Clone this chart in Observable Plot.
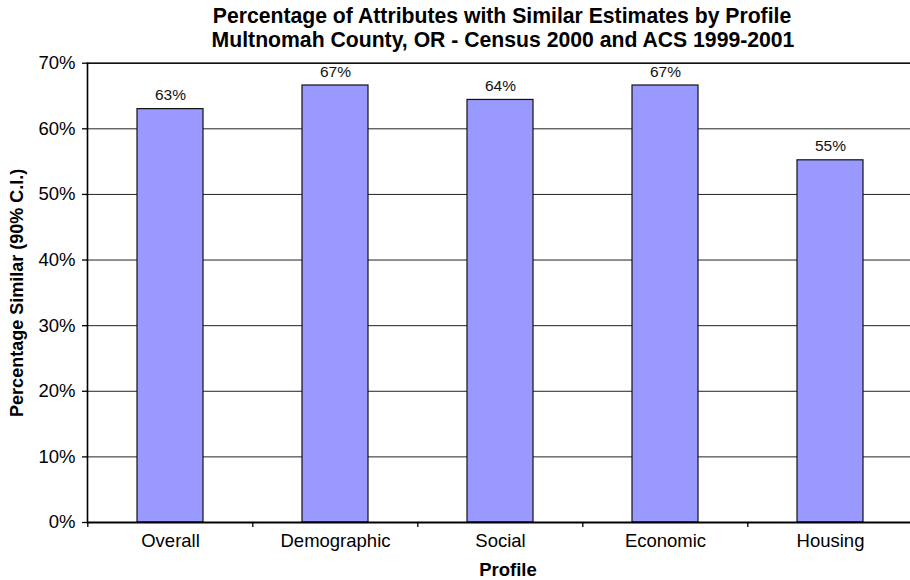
<!DOCTYPE html>
<html>
<head>
<meta charset="utf-8">
<script src="https://cdn.jsdelivr.net/npm/d3@7"></script>
<script src="https://cdn.jsdelivr.net/npm/@observablehq/plot@0.6"></script>
<style>
  html, body { margin: 0; padding: 0; background: #fff; }
  #wrap { width: 910px; height: 580px; overflow: hidden; position: relative; }
  #wrap svg { font-family: "Liberation Sans", Arial, Helvetica, sans-serif; }
</style>
</head>
<body>
<div id="wrap"></div>
<script>
const categories = ["Overall", "Demographic", "Social", "Economic", "Housing"];
const values = [63.0, 66.6, 64.4, 66.6, 55.2];
const yTicks = [0, 10, 20, 30, 40, 50, 60, 70];
const titleLines = [
  "Percentage of Attributes with Similar Estimates by Profile",
  "Multnomah County, OR - Census 2000 and ACS 1999-2001"
];
const yLabel = "Percentage Similar (90% C.I.)";
const xLabel = "Profile";

const data = categories.map((c, i) => ({category: c, value: values[i]}));

const width = 914, height = 580;
const marginLeft = 87, marginRight = 0, marginTop = 62.7, marginBottom = 58;
const step = (width - marginLeft - marginRight) / categories.length;

const chart = Plot.plot({
  width, height, marginLeft, marginRight, marginTop, marginBottom,
  style: {maxWidth: "none", background: "transparent", fontFamily: '"Liberation Sans", Arial, Helvetica, sans-serif', color: "#000"},
  x: {domain: categories, paddingInner: 0.6, paddingOuter: 0.3, label: null},
  y: {domain: [0, 70], label: null},
  marks: [
    Plot.ruleY(yTicks, {y: d => d, stroke: "#222", strokeWidth: 1}),
    Plot.ruleY([70], {stroke: "#111", strokeWidth: 1.6}),
    Plot.barY(data, {x: "category", y: "value", fill: "#9999FF", stroke: "#111", strokeWidth: 1.2}),
    Plot.text(data, {x: "category", y: "value", text: d => Math.round(d.value) + "%", lineAnchor: "bottom", dy: -9, fontSize: 15.5, fill: "#111"}),
    Plot.axisY({ticks: yTicks, tickFormat: d => d + "%", tickSize: 5, tickPadding: 7, fontSize: 18.5, label: null, stroke: "#000", strokeWidth: 1.3}),
    Plot.axisX({ticks: categories, tickSize: 0, tickPadding: 11.5, fontSize: 18.5, label: null}),
    Plot.axisX({ticks: categories, tickSize: 5, tickFormat: () => "", dx: -step / 2, label: null, strokeWidth: 1.3}),
    Plot.ruleY([0], {stroke: "#000", strokeWidth: 1.8}),
    Plot.frame({anchor: "left", stroke: "#000", strokeWidth: 1.6}),
    Plot.text([titleLines[0]], {text: d => d, frameAnchor: "top", lineAnchor: "bottom", dy: -40, dx: 1, fontSize: 21.2, fontWeight: "bold", fill: "#000"}),
    Plot.text([titleLines[1]], {text: d => d, frameAnchor: "top", lineAnchor: "bottom", dy: -16, dx: 2, fontSize: 21.2, fontWeight: "bold", fill: "#000"}),
    Plot.text([yLabel], {text: d => d, frameAnchor: "left", textAnchor: "middle", rotate: -90, lineAnchor: "middle", dx: -70, fontSize: 18, fontWeight: "bold", fill: "#000"}),
    Plot.text([xLabel], {text: d => d, frameAnchor: "bottom", lineAnchor: "bottom", dy: 53, dx: 7, fontSize: 18.5, fontWeight: "bold", fill: "#000"})
  ]
});
document.getElementById("wrap").appendChild(chart);
</script>
</body>
</html>
